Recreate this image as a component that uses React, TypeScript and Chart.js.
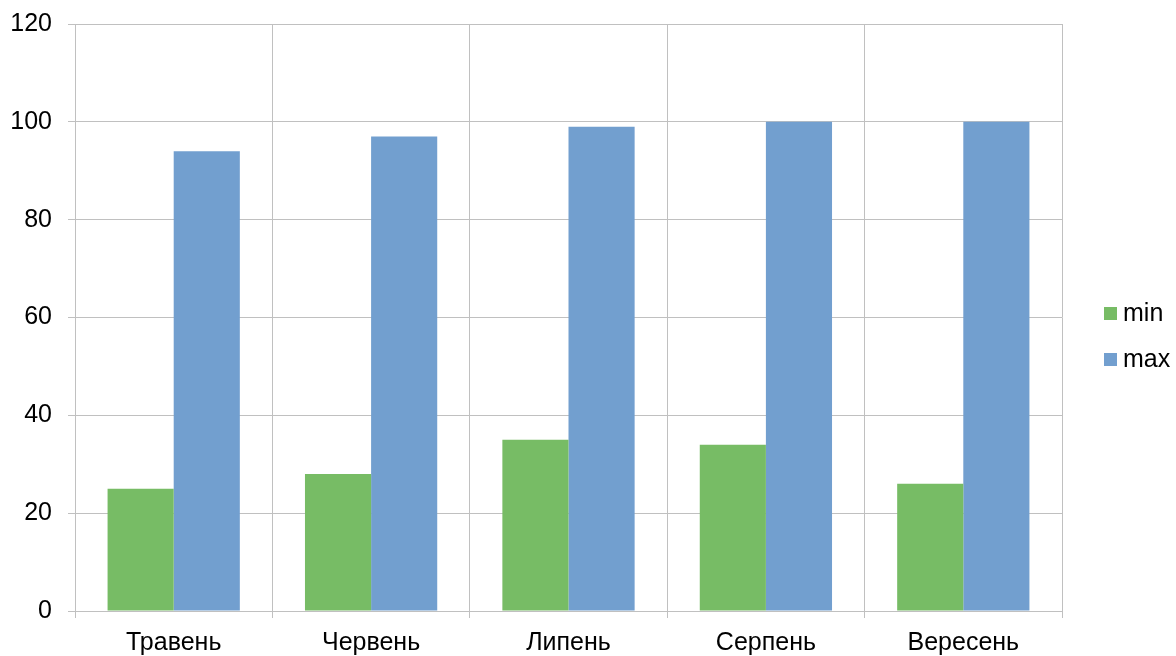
import React, { useEffect, useRef } from "react";
import { Chart, registerables } from "chart.js";

Chart.register(...registerables);

const categories = ["Травень", "Червень", "Липень", "Серпень", "Вересень"];
const minValues = [25, 28, 35, 34, 26];
const maxValues = [94, 97, 99, 100, 100];
const yTicks = [0, 20, 40, 60, 80, 100, 120];

const GREEN = "#77bc65";
const BLUE = "#729fcf";
const GRID = "#c0c0c0";
const FONT = "'Liberation Sans', Arial, sans-serif";

const legendPlugin = {
  id: "customLegend",
  afterDraw(chart: any) {
    const ctx = chart.ctx;
    const ds = chart.data.datasets;
    ctx.save();
    ctx.font = `25px ${FONT}`;
    ctx.textBaseline = "middle";
    const startY = 313;
    const gap = 46;
    ds.forEach((d: any, i: number) => {
      const y = startY + i * gap;
      ctx.fillStyle = d.backgroundColor;
      ctx.fillRect(1104, y - 6, 13, 13);
      ctx.fillStyle = "#000";
      ctx.textAlign = "left";
      ctx.fillText(d.label, 1123, y + 1);
    });
    ctx.restore();
  },
};

export default function App() {
  const ref = useRef<HTMLCanvasElement | null>(null);
  useEffect(() => {
    if (!ref.current) return;
    const chart = new Chart(ref.current, {
      type: "bar",
      data: {
        labels: categories,
        datasets: [
          { label: "min", data: minValues, backgroundColor: GREEN, borderWidth: 0 },
          { label: "max", data: maxValues, backgroundColor: BLUE, borderWidth: 0 },
        ],
      },
      options: {
        animation: false,
        responsive: false,
        devicePixelRatio: 1,
        layout: { padding: { top: 24, right: 114, left: 0, bottom: 0 } },
        datasets: { bar: { categoryPercentage: 0.67, barPercentage: 1 } },
        plugins: { legend: { display: false }, tooltip: { enabled: false } },
        scales: {
          x: {
            grid: { color: GRID, lineWidth: 1, offset: true, tickLength: 7, drawTicks: true },
            border: { color: GRID, width: 1 },
            ticks: { color: "#000", font: { family: FONT, size: 25 }, padding: 10, maxRotation: 0 },
            afterFit: (s: any) => { s.height = 45; s.paddingLeft = 0; s.paddingRight = 0; },
          },
          y: {
            min: 0,
            max: 120,
            grid: { color: GRID, lineWidth: 1, tickLength: 7 },
            border: { color: GRID, width: 1 },
            afterBuildTicks: (s: any) => { s.ticks = yTicks.map((v) => ({ value: v })); },
            ticks: { color: "#000", font: { family: FONT, size: 25 }, padding: 16 },
            afterFit: (s: any) => { s.width = 75; s.paddingTop = 0; s.paddingBottom = 0; },
          },
        },
      },
      plugins: [legendPlugin],
    });
    return () => chart.destroy();
  }, []);
  return (
    <div style={{ position: "absolute", left: 0, top: 0, width: 1176, height: 656, background: "#fff" }}>
      <canvas ref={ref} width={1176} height={656} style={{ display: "block" }} />
    </div>
  );
}
